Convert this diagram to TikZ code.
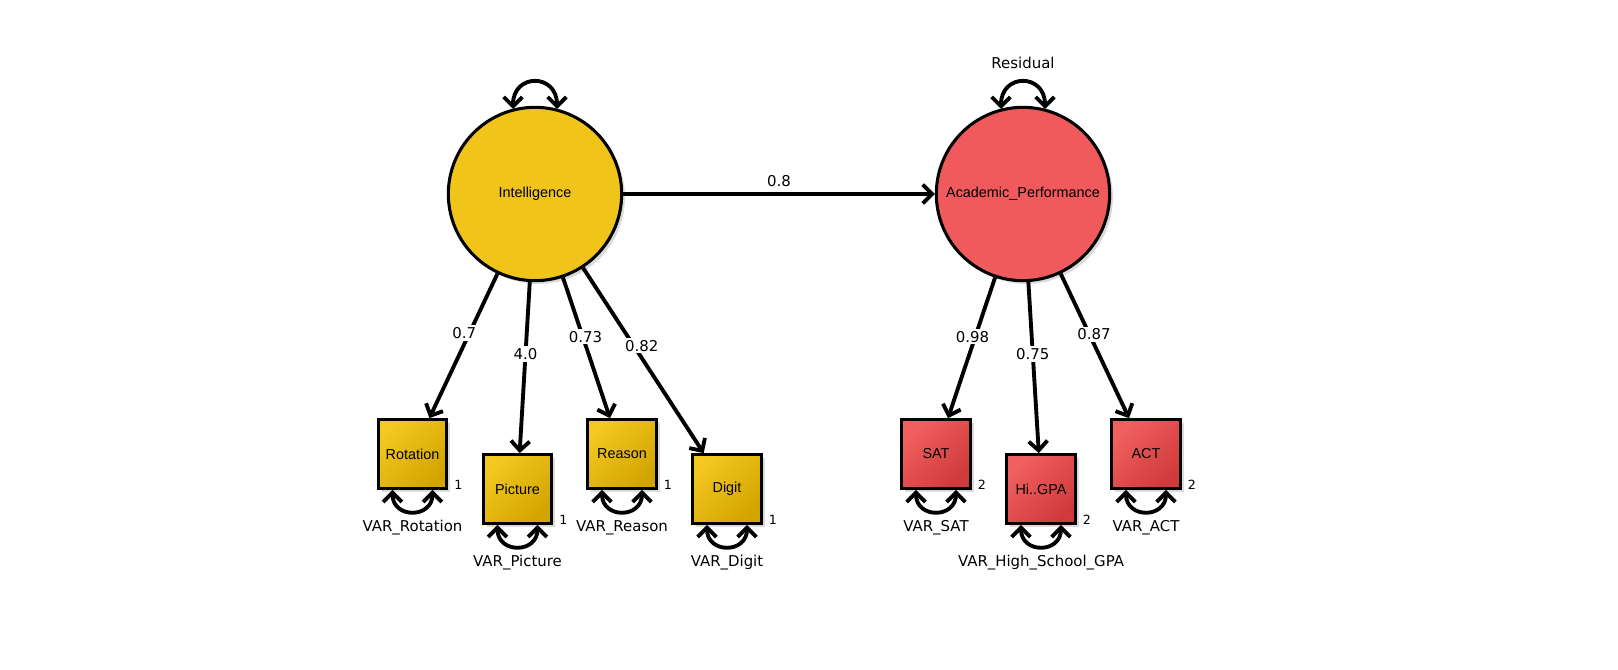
\documentclass[tikz,border=0pt]{standalone}
\usepackage{fontspec}
\setmainfont{Liberation Sans}
\newfontfamily\labfont{DejaVu Sans}
\usetikzlibrary{arrows.meta,shadows,calc}
\definecolor{yelC}{RGB}{240,196,25}
\definecolor{yelL}{RGB}{243,200,32}
\definecolor{yelD}{RGB}{210,164,0}
\definecolor{redC}{RGB}{240,90,92}
\definecolor{redL}{RGB}{241,96,96}
\definecolor{redD}{RGB}{208,58,60}
\tikzset{
  latent/.style={circle, draw=black, line width=2.3pt, minimum size=130pt, inner sep=0pt,
    font=\fontsize{10.8}{12}\selectfont,
    drop shadow={shadow xshift=2.5pt, shadow yshift=-2.5pt, fill=black!28}},
  manifest/.style={rectangle, draw=black, line width=2.3pt, minimum size=51.5pt, inner sep=0pt,
    font=\fontsize{10.8}{12}\selectfont,
    drop shadow={shadow xshift=2.5pt, shadow yshift=-2.5pt, fill=black!28}},
  yelbox/.style={manifest, top color=yelL, bottom color=yelD, shading angle=45},
  redbox/.style={manifest, top color=redL, bottom color=redD, shading angle=45},
  conn/.style={line width=2.9pt, -{Straight Barb[length=7pt,width=14pt]}},
  varloop/.style={line width=2.9pt, {Straight Barb[length=7pt,width=14pt]}-{Straight Barb[length=7pt,width=14pt]}},
  wlab/.style={fill=white, inner sep=1.5pt, font=\labfont\fontsize{11.2}{13}\selectfont},
  vlab/.style={font=\labfont\fontsize{11.2}{13}\selectfont},
  nlab/.style={font=\labfont\fontsize{9.5}{10}\selectfont},
}
\begin{document}
\begin{tikzpicture}[x=0.75pt,y=-0.75pt]
\path[use as bounding box] (0,0) rectangle (1618,670);

% latent variables
\node[latent, fill=yelC] (I) at (535,194) {Intelligence};
\node[latent, fill=redC] (A) at (1023,194) {Academic\_Performance};

% indicators
\node[yelbox] (Rot) at (412.5,454) {Rotation};
\node[yelbox] (Pic) at (517.5,489) {Picture};
\node[yelbox] (Rea) at (622,454) {Reason};
\node[yelbox] (Dig) at (727,489) {Digit};
\node[redbox] (SAT) at (936,454) {SAT};
\node[redbox] (GPA) at (1041,489) {Hi..GPA};
\node[redbox] (ACT) at (1146,454) {ACT};

% regression
\draw[conn] (I) -- node[vlab, yshift=9.75pt] {0.8} (A);

% loadings
\draw[conn] (I) -- node[wlab, pos=0.41, xshift=-4pt] {0.7} (Rot);
\draw[conn] (I) -- node[wlab, pos=0.42] {4.0} (Pic);
\draw[conn] (I) -- node[wlab, pos=0.42, xshift=2pt] {0.73} (Rea);
\draw[conn] (I) -- node[wlab, pos=0.42, xshift=6pt] {0.82} (Dig);
\draw[conn] (A) -- node[wlab, pos=0.42, xshift=-2pt] {0.98} (SAT);
\draw[conn] (A) -- node[wlab, pos=0.42] {0.75} (GPA);
\draw[conn] (A) -- node[wlab, pos=0.42, xshift=3.5pt] {0.87} (ACT);

% latent variance loops
\foreach \n in {I,A}{
  \draw[varloop] ($(\n)+(-22,-85)$) .. controls ($(\n)+(-22,-121)$) and ($(\n)+(22,-121)$) .. ($(\n)+(22,-85)$);
}
\node[vlab] (res) at ($(A)+(0,-131)$) {Residual};

% indicator variance loops and labels
\foreach \n/\t/\v in {Rot/VAR\_Rotation/1, Pic/VAR\_Picture/1, Rea/VAR\_Reason/1, Dig/VAR\_Digit/1,
                      SAT/VAR\_SAT/2, GPA/VAR\_High\_School\_GPA/2, ACT/VAR\_ACT/2}{
  \draw[varloop] ($(\n.south)+(-20,0)$) .. controls ($(\n.south)+(-20,29)$) and ($(\n.south)+(20,29)$) .. ($(\n.south)+(20,0)$);
  \node[vlab] (\n-var) at ($(\n.south)+(0,38)$) {\t};
  \node[nlab] (\n-num) at ($(\n.south east)+(10,-5)$) {\v};
}
\end{tikzpicture}
\end{document}
